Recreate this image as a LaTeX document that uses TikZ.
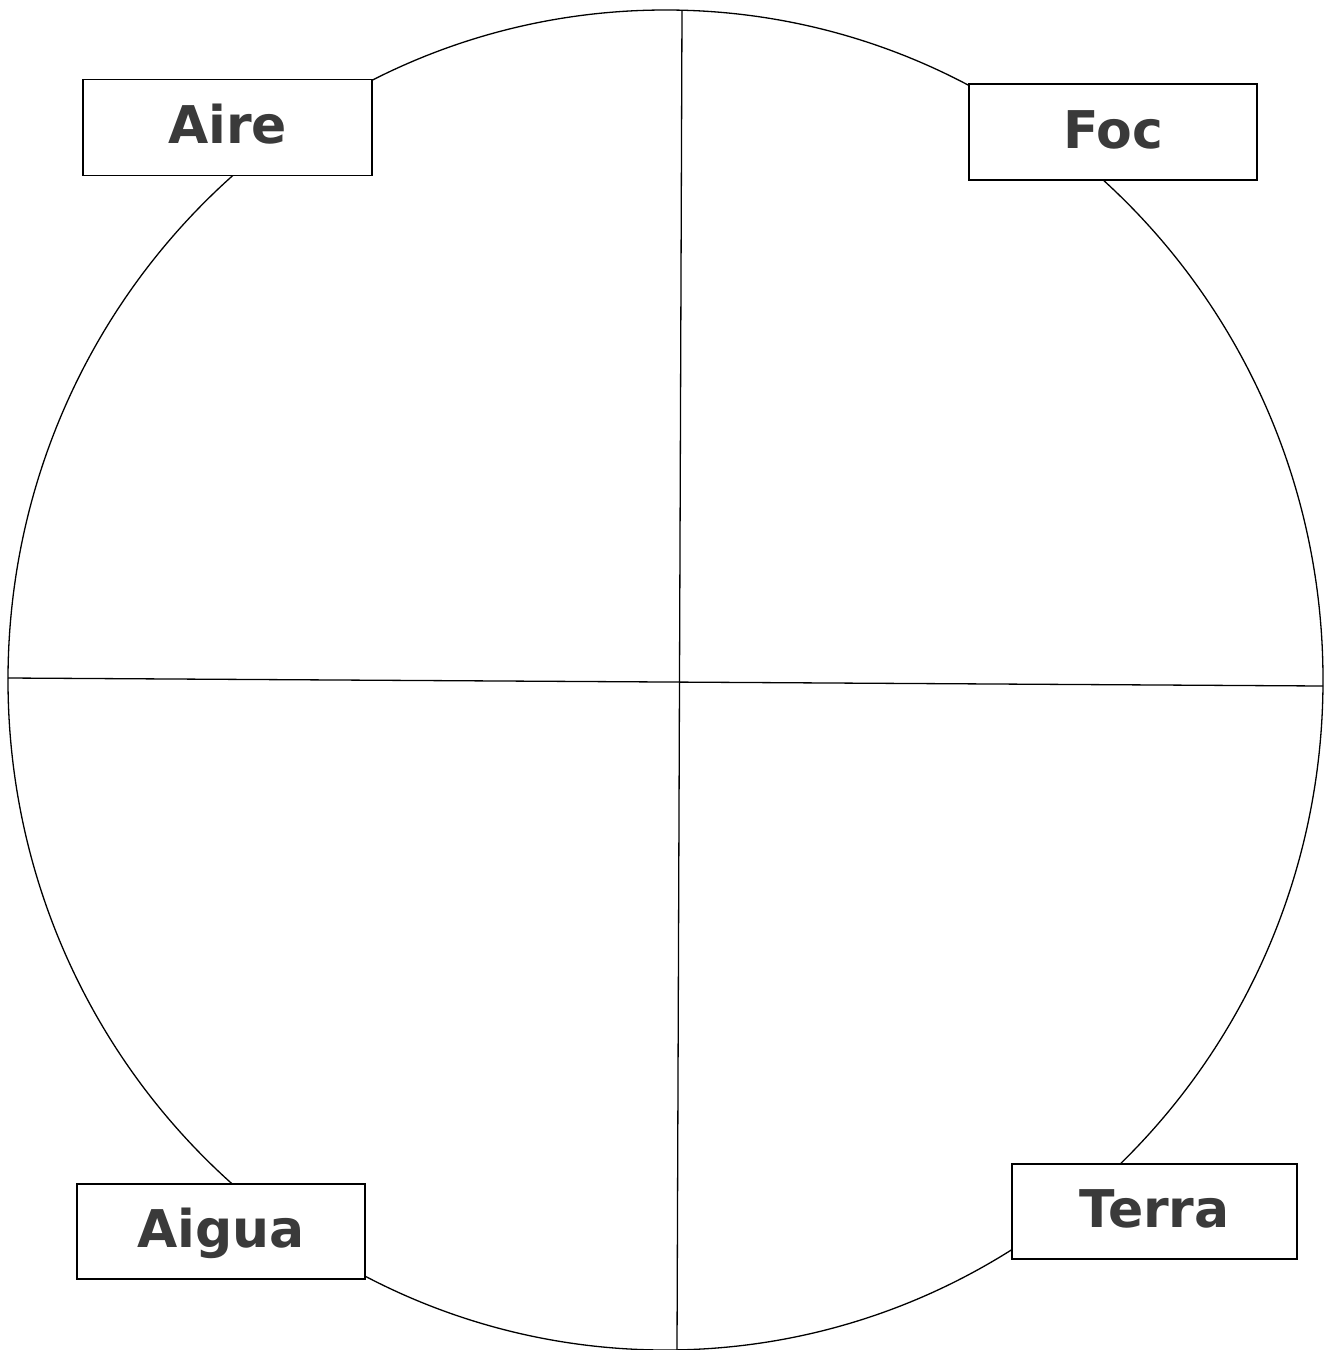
\documentclass[tikz,border=0pt]{standalone}
\usepackage{fontspec}
\setmainfont{DejaVu Sans}
\definecolor{labelgrey}{HTML}{3A3A3A}
\begin{document}
\begin{tikzpicture}[x=1pt,y=-1pt,
  line width=1.3pt,
  elembox/.style={draw=black, fill=white, line width=1.5pt, inner sep=0pt,
    minimum width=#1, minimum height=96pt,
    text height=38pt, text depth=6pt, text=labelgrey,
    font=\fontsize{52pt}{52pt}\selectfont\bfseries},
  elembox/.default=288pt]
\useasboundingbox (0,0) rectangle (1331,1350);
\fill[white] (0,0) rectangle (1331,1350);
% circle
\draw (665.5,680) ellipse [x radius=657.5pt, y radius=670pt];
% cross lines
\coordinate (vtop) at (682,10);
\coordinate (vbot) at (677,1350);
\coordinate (hleft) at (8,678);
\coordinate (hright) at (1323,686);
\draw (vtop) -- (vbot);
\draw (hleft) -- (hright);
% labels
\node[elembox=289pt] (aire) at (227.5,127.5) {Aire};
\node[elembox=288pt] (foc) at (1113,132) {Foc};
\node[elembox=288pt, minimum height=95pt] (aigua) at (221,1231.5) {Aigua};
\node[elembox=285pt, minimum height=95pt] (terra) at (1154.5,1211.5) {Terra};
\end{tikzpicture}
\end{document}
